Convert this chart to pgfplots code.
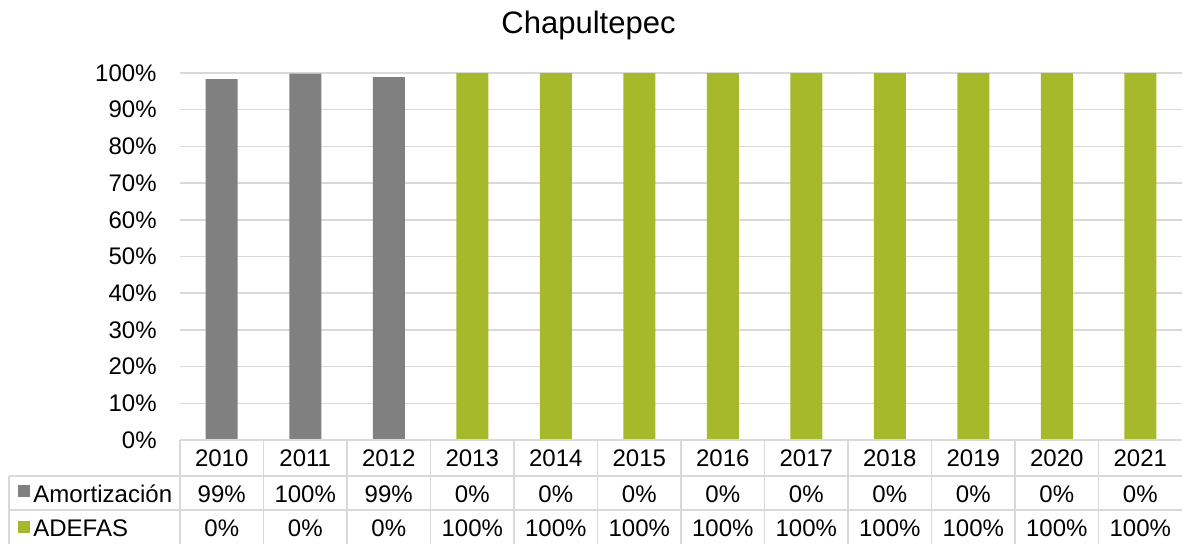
\documentclass[border=0pt]{standalone}
\usepackage{fontspec}
\setmainfont{Liberation Sans}
\usepackage{pgfplots}
\pgfplotsset{compat=1.18}
\usepackage{pgfplotstable}
\usetikzlibrary{calc}
\definecolor{amort}{HTML}{808080}
\definecolor{adefas}{HTML}{A6B92B}
\definecolor{gridc}{HTML}{D9D9D9}
\pgfplotstableread{
x amort adefas
0 98.3 0
1 99.8 0
2 98.9 0
3 0 100
4 0 100
5 0 100
6 0 100
7 0 100
8 0 100
9 0 100
10 0 100
11 0 100
}\datatable

\begin{document}
\begin{tikzpicture}
\begin{axis}[
 scale only axis, width=501pt, height=183.5pt,
 xmin=-0.5, xmax=11.5, ymin=0, ymax=100,
 ybar stacked, bar width=16pt,
 axis line style={draw=none},
 xtick=\empty,
 ytick={0,10,...,100},
 yticklabel={\pgfmathprintnumber{\tick}\%},
 /pgf/number format/assume math mode=true,
 yticklabel style={font=\fontsize{12}{14}\selectfont, inner sep=0pt, xshift=-11.5pt},
 major tick length=0pt,
 ymajorgrids, grid style={gridc, line width=0.75pt},
 clip=false,
]
\addplot[fill=amort, draw=none] table[x=x,y=amort]{\datatable};
\addplot[fill=adefas, draw=none] table[x=x,y=adefas]{\datatable};
\coordinate (sw) at (rel axis cs:0,0);
\end{axis}
\begin{scope}[shift={(sw)}, font=\fontsize{12}{14}\selectfont]
\draw[gridc, line width=0.75pt] (0,0) -- (501pt,0);
\draw[gridc, line width=0.75pt] (-85.5pt,-18pt) -- (501pt,-18pt);
\draw[gridc, line width=0.75pt] (-85.5pt,-35pt) -- (501pt,-35pt);
\draw[gridc, line width=0.75pt] (-85.5pt,-18pt) -- (-85.5pt,-52pt);
\foreach \k in {0,...,11} \draw[gridc, line width=0.75pt] ({\k*41.75pt},0) -- ({\k*41.75pt},-52pt);
\foreach \k/\yr/\a/\b in {0/2010/99/0, 1/2011/100/0, 2/2012/99/0, 3/2013/0/100, 4/2014/0/100, 5/2015/0/100, 6/2016/0/100, 7/2017/0/100, 8/2018/0/100, 9/2019/0/100, 10/2020/0/100, 11/2021/0/100}{
  \node[anchor=base, inner sep=0pt] at ({(\k+0.5)*41.75pt},-13pt) {\yr};
  \node[anchor=base, inner sep=0pt] at ({(\k+0.5)*41.75pt},-31pt) {\a\%};
  \node[anchor=base, inner sep=0pt] at ({(\k+0.5)*41.75pt},-48pt) {\b\%};
}
\fill[amort] (-81pt,-28.5pt) rectangle (-75pt,-22.5pt);
\fill[adefas] (-81pt,-46.5pt) rectangle (-75pt,-40.5pt);
\node[anchor=base west, inner sep=0pt] at (-73.5pt,-31pt) {Amortización};
\node[anchor=base west, inner sep=0pt] at (-73.5pt,-48pt) {ADEFAS};
\node[anchor=base, inner sep=0pt, font=\fontsize{15.5}{18}\selectfont] at (204.25pt,203.5pt) {Chapultepec};
\pgfresetboundingbox
\path[use as bounding box] (-90pt,-51.5pt) rectangle (501pt,220pt);
\end{scope}
\end{tikzpicture}
\end{document}
